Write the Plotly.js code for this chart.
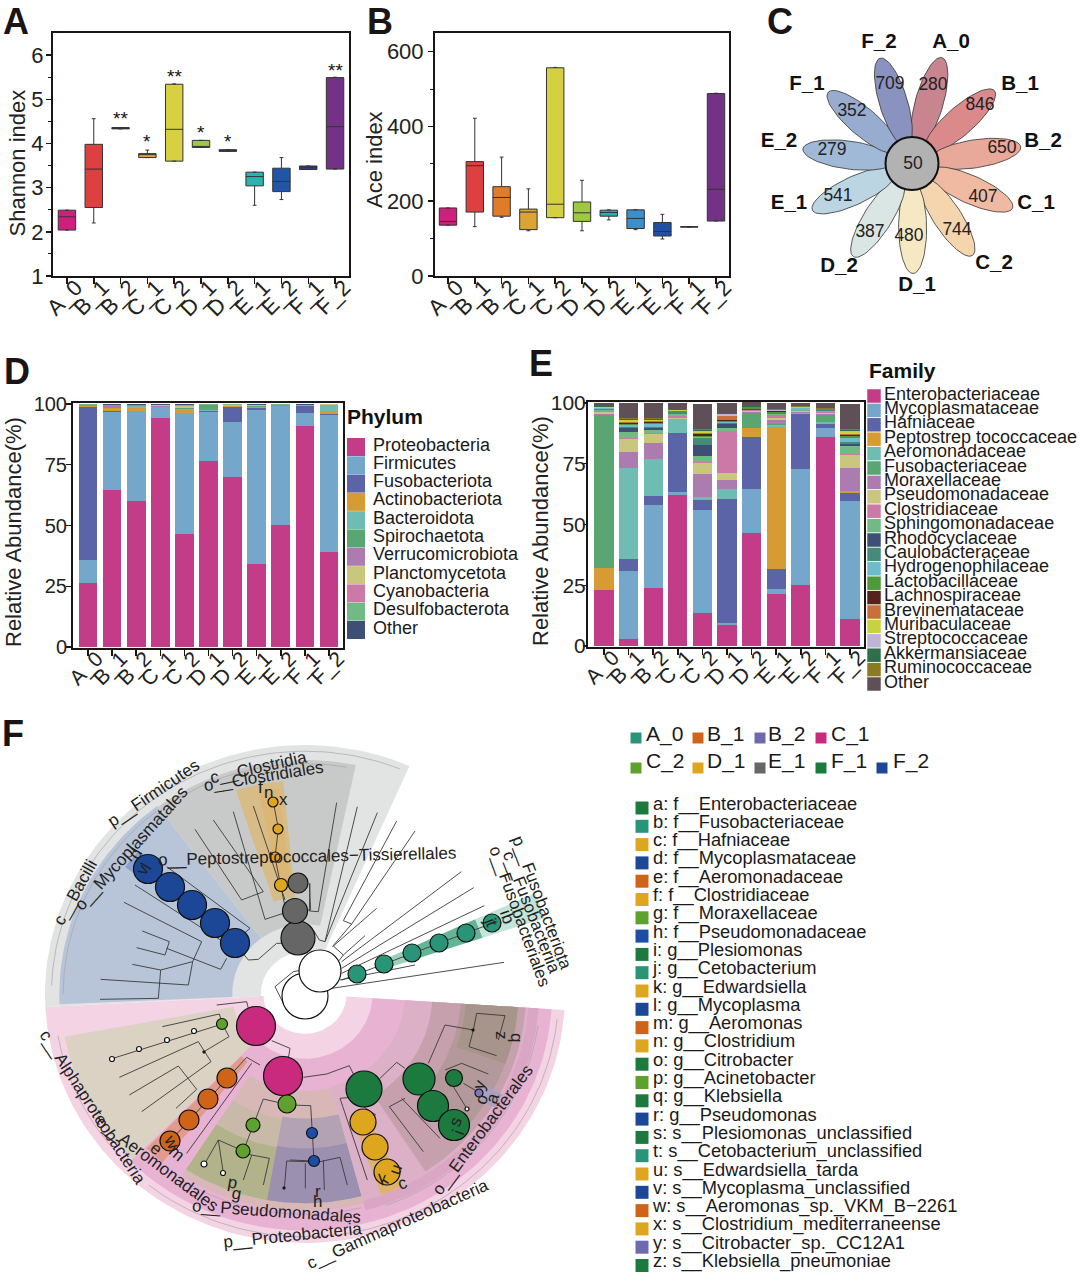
<!DOCTYPE html>
<html><head><meta charset="utf-8">
<script src="https://cdn.plot.ly/plotly-3.0.1.min.js"></script>
<style>html,body{margin:0;padding:0;background:#fff}</style></head>
<body><div id="chart" style="width:1080px;height:1274px"></div>
<script>
const groups=['A_0','B_1','B_2','C_1','C_2','D_1','D_2','E_1','E_2','F_1','F_2'];
// Panel A: Shannon index
const shQ1=[2.04,2.55,4.33,3.68,3.60,3.91,3.82,3.04,2.91,3.41,3.42];
const shMed=[2.34,3.42,4.34,3.75,4.32,3.93,3.83,3.25,3.14,3.45,4.38];
const shQ3=[2.49,3.98,4.36,3.77,5.34,4.07,3.86,3.35,3.44,3.49,5.49];
const shLo=[2.04,2.20,4.33,3.68,3.60,3.91,3.82,2.60,2.73,3.41,3.42];
const shHi=[2.49,4.56,4.36,3.85,5.35,4.07,3.86,3.35,3.68,3.49,5.50];
const shColors=['#cf1f7d','#dd4040','#e07b28','#dba535','#d8d040','#9dc840','#22b3b0','#2cb3b0','#2055a8','#3a3d90','#733285'];
const shStars=[['B_2','**',4.62],['C_1','*',4.10],['C_2','**',5.57],['D_1','*',4.30],['D_2','*',4.10],['F_2','**',5.70]];
// Panel B: Ace index
const acQ1=[136,171,160,124,156,146,160,127,107,131,147];
const acMed=[146,295,210,171,192,169,170,154,119,131,232];
const acQ3=[182,306,239,179,557,198,176,177,143,132,488];
const acLo=[136,132,157,121,156,121,150,124,99,131,147];
const acHi=[182,422,318,233,558,256,177,177,165,132,489];
const acColors=['#cf1f7d','#dd4040','#e07b28','#dba535','#d4d040','#9dc840','#22b3b0','#3a90cc','#2050a5','#3a3d90','#733285'];
// Panel C: petals
const otuCounts=[280,846,650,407,744,480,387,541,279,352,709];
const coreCount=50;
const petalOrder=['A_0','B_1','B_2','C_1','C_2','D_1','D_2','E_1','E_2','F_1','F_2'];
const petalColors=['#c9858f','#db8a8c','#e8a99a','#f0b9a2','#f5d5ae','#f7e8c4','#d9e6e3','#bcd5e2','#9fb9d6','#97acce','#8a93bf'];
const petalNumX=[933,980,1002,983,957,909,870,838,832,852,890];
const petalNumY=[86,106,149,198,231,237,233,197,151,112,85];
const petalNameX=[951,1020,1043,1036,994,917,839,789,779,807,879];
const petalNameY=[43,85,142,204,264,286,267,204,142,85,43];
// Panel D: phylum composition (one array per phylum, one value per group)
const phylumNames=['Proteobacteria','Firmicutes','Fusobacteriota','Actinobacteriota','Bacteroidota','Spirochaetota','Verrucomicrobiota','Planctomycetota','Cyanobacteria','Desulfobacterota','Other'];
const phylumColors=['#c33c87','#74a7c9','#5c64a8','#d69c33','#6fbdb2','#5aa672','#ac7cb0','#c9c77d','#cb79a7','#72ba85','#3d4f75'];
const phProteo=[26.2,64.8,60.1,94.1,46.4,76.6,69.9,34.2,50.4,91.1,38.9];
const phFirm=[9.8,32,37.1,4.5,49.9,20.2,22.7,63.5,48.6,5.3,56.6];
const phFuso=[62.9,0.2,0.1,0,0.1,0.3,6.3,0.8,0,2.8,0.2];
const phActino=[0.2,1.2,0.9,0.1,1.1,0.2,0.1,0.3,0.1,0.1,1.6];
const phBact=[0.1,0.1,0.9,0.1,0.4,0.2,0.1,0.1,0.1,0.1,2.2];
const phSpiro=[0.1,0.1,0.2,0.1,0.3,1.9,0.1,0.1,0.1,0.1,0.1];
const phVerru=[0.1,0.7,0.1,0.1,0.2,0.1,0.1,0.3,0.1,0.1,0.1];
const phPlanc=[0.2,0.1,0.1,0.5,0.8,0.1,0.3,0.2,0.2,0.1,0.1];
const phCyano=[0.1,0.2,0.1,0.1,0.1,0.1,0.1,0.1,0.1,0,0];
const phDesul=[0.1,0.2,0.1,0.1,0.2,0.1,0.1,0.1,0.1,0,0];
const phOther=[0.2,0.3,0.3,0.3,0.5,0.2,0.2,0.1,0.2,0.3,0.2];
const phylumSeries=[phProteo,phFirm,phFuso,phActino,phBact,phSpiro,phVerru,phPlanc,phCyano,phDesul,phOther];
// Panel E: family composition
const familyNames=['Enterobacteriaceae','Mycoplasmataceae','Hafniaceae','Peptostrep tococcaceae','Aeromonadaceae','Fusobacteriaceae','Moraxellaceae','Pseudomonadaceae','Clostridiaceae','Sphingomonadaceae','Rhodocyclaceae','Caulobacteraceae','Hydrogenophilaceae','Lactobacillaceae','Lachnospiraceae','Brevinemataceae','Muribaculaceae','Streptococcaceae','Akkermansiaceae','Ruminococcaceae','Other'];
const familyColors=['#c33c87','#74a7c9','#5c64a8','#d69c33','#6fbdb2','#5aa672','#ac7cb0','#c9c77d','#cb79a7','#72ba85','#3d4f75','#468a7a','#6cbccb','#4e9a3b','#55231c','#c8703a','#c8d23e','#c0b3d8','#2f6f4d','#8a7a20','#5f5058'];
const faEntero=[23,3,24,62,13.6,8.5,46.7,21.5,25,86,11];
const faMyco=[0,28,34.2,1.3,42.2,0.8,18,1.9,47.9,3.7,48.6];
const faHafni=[0,4.8,3.6,24.5,4.3,51,21.3,8.2,22.6,1.5,3.3];
const faPepto=[9,0,0,0,0.2,0,3.6,58.5,0.1,0.2,0.8];
const faAero=[0,37.5,15.3,5.5,0.9,4.4,0.2,0.9,0.2,0.8,0];
const faFuso=[63,0,0,0,0,0,6.2,0.3,0,3,0];
const faMorax=[0.5,6.6,6.5,0.3,9.5,3.5,0.4,1.5,0.4,0.3,9.5];
const faPseudo=[0.6,5.3,3.8,0.3,4.8,2.9,0.3,1,0.3,0.4,5.6];
const faClost=[0.5,0.4,0.3,0.8,0.3,17.3,0.4,1.2,0.3,0.5,0.2];
const faSphingo=[0.4,2.4,1.3,0.6,2.2,1.5,0.2,0.4,0.2,0.2,3.2];
const faRhodo=[0.2,1.5,0.6,0.2,4.9,1.3,0.1,0.1,0.1,0.1,1];
const faCaulo=[0.3,0.7,0.5,0.6,2.7,0.5,0.2,0.2,0.1,0.3,0.8];
const faHydro=[0.3,0.6,1.2,0.3,0.3,0.6,0.1,0.2,0.6,0.1,1.5];
const faLacto=[0.2,0.5,0.4,0.2,0.7,0.4,0.6,0.5,0.1,0.3,0.8];
const faLachno=[0.05,0.6,0.4,0.1,0.7,0.2,0,0.1,0.1,0,0.7];
const faBrevi=[0.05,0.4,0.4,0.1,0.5,1.8,0,0.1,0.1,0,0.2];
const faMuri=[0.1,0.5,0.4,0.2,0.4,0.3,0,0.2,0.1,0.1,0.9];
const faStrep=[0.3,0.4,0.3,0.2,0.3,0.6,0.1,0.2,0.1,0.1,0.3];
const faAkker=[0.1,0.4,0.4,0.2,0.3,0.1,0.2,0.2,0.1,0.1,0.3];
const faRumino=[0.2,0.4,0.4,0.3,0.4,0.1,0.2,0.3,0.2,0.2,0.7];
const faOther=[1.2,6,6,2.3,10.3,4.2,1.5,2.6,1.2,1.9,10];
const familySeries=[faEntero,faMyco,faHafni,faPepto,faAero,faFuso,faMorax,faPseudo,faClost,faSphingo,faRhodo,faCaulo,faHydro,faLacto,faLachno,faBrevi,faMuri,faStrep,faAkker,faRumino,faOther];
// Panel F: legends
const cladeGroups=['A_0','B_1','B_2','C_1','C_2','D_1','E_1','F_1','F_2'];
const cladeGroupColors=['#2a9478','#cf6418','#6f6ab0','#c92a7e','#5ea22d','#dea61e','#666666','#1c7a3e','#1c4796'];
const cladeGroupSwatchX=[636,698,760,821,636,698,760,821,882];
const cladeGroupSwatchY=[738,738,738,738,768,768,768,768,768];
const cladeGroupTextX=[646,707,768,831,646,707,768,831,893];
const cladeGroupTextY=[736,736,736,736,763,763,763,763,763];
const taxaLabels=['a: f__Enterobacteriaceae','b: f__Fusobacteriaceae','c: f__Hafniaceae','d: f__Mycoplasmataceae','e: f__Aeromonadaceae','f: f__Clostridiaceae','g: f__Moraxellaceae','h: f__Pseudomonadaceae','i: g__Plesiomonas','j: g__Cetobacterium','k: g__Edwardsiella','l: g__Mycoplasma','m: g__Aeromonas','n: g__Clostridium','o: g__Citrobacter','p: g__Acinetobacter','q: g__Klebsiella','r: g__Pseudomonas','s: s__Plesiomonas_unclassified','t: s__Cetobacterium_unclassified','u: s__Edwardsiella_tarda','v: s__Mycoplasma_unclassified','w: s__Aeromonas_sp._VKM_B\u22122261','x: s__Clostridium_mediterraneense','y: s__Citrobacter_sp._CC12A1','z: s__Klebsiella_pneumoniae'];
const DG='#1c7a3e',TE='#2a9478',GO='#dea61e',BL='#1c4796',OR='#cf6418',LI='#5ea22d',PU='#6f6ab0',BH='#1c4ea5';
const taxaColors=[DG,TE,GO,BL,OR,GO,LI,BH,DG,TE,GO,BL,OR,GO,DG,LI,DG,BL,DG,TE,GO,BL,OR,GO,PU,DG];
// Panel F: cladogram sectors: inner r, outer r, from angle, to angle, fill
const cladeBands=[
 [.17,1,66.3,183,'#e2e4e4'],
 [.28,.945,127,182.5,'#b8c4d8'],
 [.28,.94,78,127,'#c8caca'],
 [.39,.86,95.6,108,'#d8bc88'],
 [.45,.83,97,102.5,'#dcb674'],
 [.75,.86,138,143.6,'#8ea0cc'],
 [.30,.42,18.3,24.6,'#9bd0ba'],
 [.42,.72,18.3,24.6,'#63b596'],
 [.72,.972,18.3,24.6,'#c3e4d8'],
 [.16,1,183,356.3,'#f3d3e4'],
 [.26,.95,225,356.3,'#e8b2d3'],
 [.28,.94,190.5,225,'#dbd2c4'],
 [.35,.87,225.5,231,'#e29b8a'],
 [.39,.87,237,285,'#d7b8b6'],
 [.51,.84,237,260,'#c9b9a8'],
 [.625,.84,237,260,'#b2b38a'],
 [.50,.84,260,285,'#b3a2b4'],
 [.62,.84,260,285,'#9c90b0'],
 [.385,.86,285,356.3,'#dcb0c6'],
 [.49,.85,303,356.3,'#c6a1ad'],
 [.60,.82,318,356.3,'#b4999b'],
 [.62,.82,340,356.3,'#a7948a'],
 [.55,.86,290,296,'#dfb26f'],
 [.86,.90,285,356.3,'#d9a7c4'],
 [.78,.86,328,332,'#aaa0c0']
];
const cladeGuideArcs=[[.975,68,178],[.93,128,180],[.925,80,125],[.965,190,226],[.975,232,354],[.905,290,352],[.885,238,284]];
// Cladogram nodes: x, y, diameter, fill
const cladeNodes=[
 [148,869,29,BL],[170,887,29,BL],[192,905,29,BL],[215,923,29,BL],[235,943,29,BL],
 [298,938,34,'#666666'],[295,911,25,'#666666'],[298,883,20,'#666666'],
 [281,885,13,GO],[275,857,10,GO],[278,829,10,GO],[273,802,10,GO],
 [305,996,46,'#ffffff'],[320,971,42,'#ffffff'],
 [357,974,18,TE],[384,964,18,TE],[412,953,18,TE],[439,943,18,TE],[466,933,18,TE],[492,923,18,TE],
 [256,1026,39,'#c92a7e'],[283,1076,39,'#c92a7e'],
 [222,1024,11,LI],[194,1031,5,'#ffffff'],[167,1040,5,'#ffffff'],[139,1049,5,'#ffffff'],[112,1059,5,'#ffffff'],
 [227,1078,20,OR],[208,1099,20,OR],[189,1120,20,OR],[170,1141,20,OR],
 [287,1104,18,LI],[253,1125,14,LI],[243,1151,14,LI],[204,1164,6,'#ffffff'],[223,1173,5,'#ffffff'],
 [312,1133,11,BH],[314,1161,11,BH],
 [364,1089,36,DG],[419,1079,32,DG],[433,1106,31,DG],[454,1125,31,DG],[454,1078,17,DG],
 [363,1122,26,GO],[375,1147,26,GO],[387,1172,26,GO],
 [479,1093,8,'#7a79c0'],[467,1109,4,'#ffffff'],
 [284,1188,2,'#222'],[204,1052,2,'#222'],[473,1030,2,'#222']
];
// Cladogram branches as polylines in enlarged-crop coordinates
const branchSets=[
 [0,710,[[705,700,745,750,775,748,830,700,850,700],[405,525,665,692],[500,470,750,655,735,668],[585,358,725,570,790,545,640,330],[700,305,795,628,850,610],[760,288,855,570],[372,577,605,695,578,755,565,825,302,808],[427,663,508,695,495,735,410,713],[500,715,662,778,680,745],[397,763,482,780,475,865,300,868],[578,755,482,780],[820,275,835,357,825,442,842,525,855,590],[928,520,932,600,885,603],[960,770,880,785,825,830,850,880,885,900],[960,795,890,810,850,840,870,885,895,900]]],
 [300,710,[[110,278,55,605,28,603,30,520],[172,290,75,695,58,690,40,660],[232,308,75,695],[290,333,130,632,155,642,97,710],[345,363,155,642],[230,595,100,708,130,735,195,677],[130,735,95,780],[484,485,125,755],[521,533,125,775],[553,587,125,790],[345,765,120,810],[612,757,95,835],[125,810,576,640]]],
 [30,1000,[[560,15,650,5,655,25],[397,80,568,42,577,72],[577,72,246,176],[268,232,505,125,543,185,335,335],[522,155,597,110,577,72],[298,285,445,198,500,268,438,325],[725,122,780,145,775,175],[690,195,650,172,421,423],[665,190,470,460],[640,453,670,375,700,297,770,313],[640,453,612,440,565,420,523,493],[565,420,580,519],[640,453,665,465,718,475,700,555],[665,465,640,540],[770,483,763,565],[770,483,835,485]]],
 [290,1000,[[40,232,110,222,178,197,190,222],[0,315,62,317,67,400,72,483],[72,483,0,480],[46,490,46,565],[90,485,150,472,172,555],[100,480,103,570],[270,235,320,187,345,205],[150,295,232,540],[150,295,205,290],[220,320,258,345],[415,190,465,75,550,90],[550,90,560,40,645,47,625,120],[550,90,537,140,620,167],[298,320,400,455],[298,320,345,295],[335,295,450,415],[465,210,515,190,595,222],[490,260,530,325],[520,250,568,278]]]
];
// Rotated cladogram labels: text, x, y, angle
const cladeLabels=[
 ['p__Firmicutes',153,793,-34],['c__Clostridia',258,767,-12.6],['o__Clostridiales',263,776,-9],
 ['o__Mycoplasmatales',131,848,-48],['c__Bacilli',75,892,-61],
 ['o__Peptostreptococcales\u2212Tissierellales',307,856,-1.3],
 ['p__Fusobacteriota',542,902,69.4],['c__Fusobacteriia',532,912,68.5],['o__Fusobacteriales',520,916,70],
 ['c__Alphaproteobacteria',93,1107,57],['o__Aeromonadales',157,1163,36.6],['o__Pseudomonadales',276,1211,4],
 ['p__Proteobacteria',292,1235,-5.7],['c__Gammaproteobacteria',397,1224,-24],['o__Enterobacterales',482,1130,-53.5],
 ['f',260,787,0],['n',268,792,0],['x',283,799,0],['v',142,870,-60],['l',146,866,-60],['d',135,854,-60],
 ['t',492,923,70],['j',490,920,70],['i',506,912,70],['b',508,918,70],
 ['e',156,1148,40],['m',177,1153,40],['w',172,1142,60],['p',232,1182,10],['g',236,1193,10],
 ['r',318,1191,0],['h',317,1201,0],['k',383,1179,-20],['u',395,1170,-70],['c',402,1183,-20],
 ['s',455,1122,-70],['i',458,1132,-70],['z',502,1035,90],['q',517,1037,90],['y',479,1085,-70],['o',481,1100,-70],['a',492,1098,-70]
];
const panelLetters=[['A',16,21],['B',380,21],['C',780,21],['D',17,371],['E',541,363],['F',13,733]];
const axisTitles=[['Shannon index',17,163.5],['Ace index',374,160],['Relative Abundance(%)',13,532],['Relative Abundance(%)',540,531]];

const W=1080,H=1274,FONT='"Liberation Sans", Arial, sans-serif',INK='#1a1414';
const dx=(a,b)=>[a/W,b/W], dy=(t,b)=>[1-b/H,1-t/H];
const traces=[];
function boxes(q1,med,q3,lo,hi,colors,xa,ya){
 groups.forEach((g,i)=>traces.push({type:'box',x:[g],q1:[q1[i]],median:[med[i]],q3:[q3[i]],lowerfence:[lo[i]],upperfence:[hi[i]],width:.65,whiskerwidth:.22,boxpoints:false,fillcolor:colors[i],line:{color:'#333',width:1},showlegend:false,hoverinfo:'skip',xaxis:xa,yaxis:ya}));
}
boxes(shQ1,shMed,shQ3,shLo,shHi,shColors,'x','y');
boxes(acQ1,acMed,acQ3,acLo,acHi,acColors,'x2','y2');
function stack(series,names,colors,xa,ya){
 series.forEach((v,i)=>traces.push({type:'bar',x:groups,y:v,name:names[i],marker:{color:colors[i],line:{width:0}},showlegend:false,hoverinfo:'skip',xaxis:xa,yaxis:ya}));
}
stack(phylumSeries,phylumNames,phylumColors,'x3','y3');
stack(familySeries,familyNames,familyColors,'x4','y4');
// overlay helpers
const ov={xaxis:'x5',yaxis:'y5',showlegend:false,hoverinfo:'skip',cliponaxis:false};
function text(xs,ys,t,size,pos,color){traces.push({...ov,type:'scatter',mode:'text',x:xs,y:ys,text:t,textposition:pos||'middle center',textfont:{family:FONT,size:size,color:color||'#1a1a1a'}});}
function squares(xs,ys,size,colors){traces.push({...ov,type:'scatter',mode:'markers',x:xs,y:ys,marker:{symbol:'square',size:size,color:colors,line:{width:0}}});}
// flower
const FCX=912,FCY=163.5,FC=64,FA=46,FB=14;
otuCounts.forEach((c,i)=>{
 const ang=(15.8+i*360/11)*Math.PI/180, ux=Math.sin(ang), uy=-Math.cos(ang), xs=[],ys=[];
 for(let k=0;k<=72;k++){const t=k/72*2*Math.PI,a=FC+FA*Math.cos(t),b=FB*Math.sin(t);xs.push(FCX+a*ux-b*uy);ys.push(FCY+a*uy+b*ux);}
 traces.push({...ov,type:'scatter',mode:'lines',x:xs,y:ys,fill:'toself',fillcolor:petalColors[i],line:{color:'#333',width:.8}});
});
traces.push({...ov,type:'scatter',mode:'markers',x:[FCX],y:[FCY],marker:{size:53,color:'#b2b2b2',line:{color:'#111',width:2}}});
text(petalNumX,petalNumY,otuCounts.map(String),17.5,'middle center','#222');
text([FCX+1],[FCY+1],[String(coreCount)],17.5,'middle center','#222');
text(petalNameX,petalNameY,petalOrder.map(s=>'<b>'+s+'</b>'),20.5,'middle center','#111');
// D / E legends
squares(phylumNames.map(()=>356),phylumNames.map((_,i)=>447+i*18.3),18,phylumColors);
text(phylumNames.map(()=>373),phylumNames.map((_,i)=>446+i*18.3),phylumNames,18,'middle right');
text([347],[419],['<b>Phylum</b>'],21,'middle right','#111');
squares(familyNames.map(()=>874),familyNames.map((_,i)=>396+i*14.4),13.5,familyColors);
text(familyNames.map(()=>884),familyNames.map((_,i)=>395+i*14.4),familyNames,18,'middle right');
text([869],[373],['<b>Family</b>'],21,'middle right','#111');
// cladogram
const CX=305,CY=994,RX=260,RY=249;
function arc(r,a0,a1){const n=Math.max(3,Math.ceil(Math.abs(a1-a0)/1.5)),xs=[],ys=[];for(let k=0;k<=n;k++){const a=(a0+(a1-a0)*k/n)*Math.PI/180;xs.push(CX+RX*r*Math.cos(a));ys.push(CY-RY*r*Math.sin(a));}return [xs,ys];}
cladeBands.forEach(b=>{const o=arc(b[1],b[2],b[3]),n=arc(b[0],b[3],b[2]);traces.push({...ov,type:'scatter',mode:'lines',x:o[0].concat(n[0]),y:o[1].concat(n[1]),fill:'toself',fillcolor:b[4],line:{width:0}});});
cladeGuideArcs.forEach(g=>{const o=arc(g[0],g[1],g[2]);traces.push({...ov,type:'scatter',mode:'lines',x:o[0],y:o[1],line:{color:'#a9a5a8',width:.7}});});
{const xs=[],ys=[];branchSets.forEach(([ox,oy,lines])=>lines.forEach(l=>{for(let i=0;i<l.length;i+=2){xs.push(ox+l[i]/3);ys.push(oy+l[i+1]/3);}xs.push(null);ys.push(null);}));
 traces.push({...ov,type:'scatter',mode:'lines',x:xs,y:ys,line:{color:'#3a3a3a',width:.9}});}
traces.push({...ov,type:'scatter',mode:'markers',x:cladeNodes.map(n=>n[0]),y:cladeNodes.map(n=>n[1]),marker:{size:cladeNodes.map(n=>n[2]),color:cladeNodes.map(n=>n[3]),line:{color:'#111',width:1.2},opacity:1}});
// F legends
squares(cladeGroupSwatchX,cladeGroupSwatchY,11,cladeGroupColors);
text(cladeGroupTextX,cladeGroupTextY,cladeGroups,21,'middle right');
squares(taxaLabels.map(()=>642),taxaLabels.map((_,i)=>808+i*18.3),13,taxaColors);
text(taxaLabels.map(()=>653),taxaLabels.map((_,i)=>805+i*18.3),taxaLabels,18.3,'middle right');

const annotations=[];
panelLetters.forEach(p=>annotations.push({xref:'x5',yref:'y5',x:p[1],y:p[2],text:'<b>'+p[0]+'</b>',showarrow:false,font:{family:FONT,size:36,color:INK},xanchor:'center',yanchor:'middle'}));
axisTitles.forEach(t=>annotations.push({xref:'x5',yref:'y5',x:t[1],y:t[2],text:t[0],textangle:-90,showarrow:false,font:{family:FONT,size:22,color:'#222'},xanchor:'center',yanchor:'middle'}));
cladeLabels.forEach(l=>annotations.push({xref:'x5',yref:'y5',x:l[1],y:l[2],text:l[0],textangle:l[3],showarrow:false,font:{family:FONT,size:17,color:'#222'},xanchor:'center',yanchor:'middle',borderpad:0,borderwidth:0}));
shStars.forEach(s=>annotations.push({xref:'x',yref:'y',x:s[0],y:s[2],text:s[1],showarrow:false,font:{family:FONT,size:19,color:'#111'},yshift:-2,xanchor:'center',yanchor:'middle'}));

function xAxis(dom,range,size){return {domain:dom,type:'category',categoryorder:'array',categoryarray:groups,tickmode:'array',tickvals:groups,ticktext:groups,range:range,tickangle:-45,ticks:'outside',ticklen:6,tickwidth:1.5,tickcolor:INK,ticklabelstandoff:-18,ticklabelshift:9,tickfont:{family:FONT,size:size,color:'#222'},showline:true,linecolor:INK,linewidth:2,mirror:true,showgrid:false,zeroline:false,fixedrange:true};}
function yAxis(dom,range,tick,size,standoff,len,minor){const a={domain:dom,range:range,tickmode:'array',tickvals:tick,ticks:'outside',ticklen:len,tickwidth:1.5,tickcolor:INK,ticklabelstandoff:standoff,tickfont:{family:FONT,size:size,color:'#222'},showline:true,linecolor:INK,linewidth:2,mirror:true,showgrid:false,zeroline:false,fixedrange:true};
 if(minor)a.minor={tickvals:minor,ticks:'outside',ticklen:3,tickwidth:1,tickcolor:INK};return a;}
const layout={width:W,height:H,margin:{l:0,r:0,t:0,b:0,pad:0},paper_bgcolor:'#fff',plot_bgcolor:'rgba(0,0,0,0)',showlegend:false,barmode:'stack',bargap:.225,boxmode:'overlay',annotations,
 xaxis:{...xAxis(dx(53,349),[-.52,10.52],22),anchor:'y'},
 yaxis:{...yAxis(dy(33,276),[1,6.5],[1,2,3,4,5,6],22,-2,5,[1.5,2.5,3.5,4.5,5.5]),anchor:'x'},
 xaxis2:{...xAxis(dx(435,729),[-.485,10.485],22),anchor:'y2'},
 yaxis2:{...yAxis(dy(33,276),[0,650],[0,200,400,600],22,0,5,[100,300,500]),anchor:'x2'},
 xaxis3:{...xAxis(dx(73,343),[-.62,10.58],21),anchor:'y3'},
 yaxis3:{...yAxis(dy(403,648),[-.4,100.4],[0,25,50,75,100],20,-5,5),anchor:'x3'},
 xaxis4:{...xAxis(dx(588,864),[-.65,10.57],21),anchor:'y4'},
 yaxis4:{...yAxis(dy(402,647),[-.4,100.4],[0,25,50,75,100],21,-7,3),anchor:'x4'},
 xaxis5:{domain:[0,1],range:[0,W],visible:false,fixedrange:true,anchor:'y5'},
 yaxis5:{domain:[0,1],range:[H,0],visible:false,fixedrange:true,anchor:'x5'}
};
Plotly.newPlot('chart',traces,layout,{displayModeBar:false,staticPlot:true});
</script></body></html>
